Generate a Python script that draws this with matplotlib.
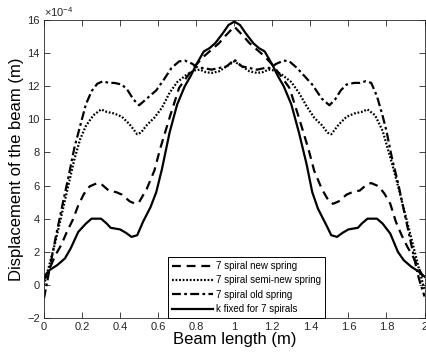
import numpy as np
import matplotlib
matplotlib.use('Agg')
import matplotlib.pylab as plt

# displacement values in units of 1e-4 m
x_new = [0.00, 0.03, 0.06, 0.09, 0.12, 0.15, 0.18, 0.21, 0.24, 0.28, 0.30, 0.34, 0.38, 0.41,
         0.45, 0.48, 0.50, 0.54, 0.58, 0.61, 0.66, 0.71, 0.76, 0.80, 0.84, 0.88, 0.92, 0.95,
         1.00, 1.05, 1.08, 1.12, 1.16, 1.20, 1.24, 1.29, 1.34, 1.39, 1.42, 1.46, 1.50, 1.52,
         1.55, 1.59, 1.62, 1.66, 1.70, 1.72, 1.76, 1.79, 1.82, 1.85, 1.88, 1.91, 1.94, 1.97, 2.00]
y_new = [0.3, 1.0, 1.8, 2.4, 3.2, 3.9, 4.8, 5.5, 5.95, 6.15, 6.1, 5.7, 5.6, 5.45,
         5.05, 4.9, 5.0, 5.8, 6.9, 8.2, 10.1, 11.9, 12.7, 13.3, 13.8, 14.2, 14.6, 15.0,
         15.6, 15.0, 14.6, 14.2, 13.8, 13.3, 12.7, 11.9, 10.1, 8.2, 6.9, 5.8, 5.0, 4.9,
         5.05, 5.45, 5.6, 5.7, 6.1, 6.15, 5.95, 5.5, 4.9, 3.8, 3.0, 2.3, 1.7, 1.0, 0.3]

x_semi = [0.00, 0.03, 0.06, 0.10, 0.13, 0.16, 0.19, 0.22, 0.26, 0.30, 0.33, 0.37, 0.41, 0.45,
          0.49, 0.51, 0.54, 0.58, 0.62, 0.66, 0.70, 0.75, 0.79, 0.82, 0.85, 0.88, 0.92, 0.96,
          1.00, 1.04, 1.08, 1.12, 1.15, 1.18, 1.21, 1.25, 1.30, 1.34, 1.38, 1.42, 1.46, 1.49,
          1.51, 1.55, 1.59, 1.63, 1.67, 1.70, 1.74, 1.78, 1.80, 1.83, 1.86, 1.90, 1.94, 1.97, 2.00]
y_semi = [0.0, 1.3, 2.6, 4.6, 6.1, 7.6, 8.8, 9.6, 10.25, 10.6, 10.45, 10.35, 10.15, 9.7,
          9.1, 9.2, 9.65, 10.1, 10.7, 11.6, 12.25, 12.7, 12.95, 13.0, 12.85, 12.8, 12.9, 13.2,
          13.5, 13.2, 12.9, 12.8, 12.85, 13.0, 12.95, 12.7, 12.25, 11.6, 10.8, 10.1, 9.65, 9.2,
          9.1, 9.7, 10.15, 10.35, 10.45, 10.6, 10.25, 9.3, 8.5, 7.3, 6.0, 4.2, 2.4, 1.0, -0.3]

x_old = [0.00, 0.03, 0.06, 0.10, 0.13, 0.16, 0.19, 0.22, 0.25, 0.28, 0.31, 0.34, 0.37, 0.41,
         0.44, 0.47, 0.50, 0.54, 0.59, 0.63, 0.67, 0.71, 0.74, 0.78, 0.81, 0.84, 0.88, 0.92,
         0.96, 1.00, 1.04, 1.08, 1.12, 1.16, 1.19, 1.22, 1.26, 1.29, 1.33, 1.37, 1.41, 1.46,
         1.50, 1.53, 1.56, 1.59, 1.63, 1.66, 1.69, 1.72, 1.75, 1.78, 1.80, 1.83, 1.86, 1.89,
         1.92, 1.95, 1.97, 2.00]
y_old = [-0.8, 1.0, 2.8, 5.0, 6.6, 8.3, 9.6, 10.9, 11.7, 12.15, 12.3, 12.2, 12.2, 12.1,
         11.75, 11.2, 10.85, 11.25, 11.75, 12.4, 13.1, 13.5, 13.55, 13.35, 13.1, 13.1, 13.0, 13.1,
         13.2, 13.6, 13.2, 13.1, 13.0, 13.1, 13.1, 13.35, 13.55, 13.5, 13.1, 12.6, 12.1, 11.25,
         10.85, 11.2, 11.75, 12.1, 12.2, 12.2, 12.3, 12.2, 11.4, 10.2, 9.3, 7.6, 6.2, 4.6,
         3.0, 1.4, 0.4, -0.7]

x_fixed = [0.00, 0.03, 0.07, 0.11, 0.14, 0.18, 0.22, 0.25, 0.30, 0.33, 0.35, 0.40, 0.43, 0.46,
           0.49, 0.52, 0.56, 0.59, 0.62, 0.66, 0.70, 0.74, 0.77, 0.80, 0.84, 0.87, 0.90, 0.94,
           0.97, 1.00, 1.03, 1.06, 1.10, 1.13, 1.16, 1.20, 1.23, 1.26, 1.30, 1.34, 1.38, 1.41,
           1.44, 1.48, 1.51, 1.54, 1.57, 1.60, 1.65, 1.67, 1.70, 1.75, 1.78, 1.82, 1.86, 1.89,
           1.93, 1.97, 2.00]
y_fixed = [0.5, 0.9, 1.2, 1.6, 2.2, 3.2, 3.7, 4.0, 4.0, 3.7, 3.45, 3.35, 3.15, 2.9,
           3.0, 3.8, 4.7, 5.6, 7.0, 9.2, 10.9, 12.0, 12.6, 13.3, 14.1, 14.3, 14.6, 15.2,
           15.7, 15.9, 15.7, 15.2, 14.6, 14.3, 14.1, 13.3, 12.6, 12.0, 10.9, 9.2, 7.3, 5.6,
           4.6, 3.7, 3.0, 2.9, 3.15, 3.35, 3.45, 3.7, 4.0, 4.0, 3.7, 3.1, 2.0, 1.5,
           1.1, 0.8, 0.5]

labels = ['7 spiral new spring', '7 spiral semi-new spring',
          '7 spiral old spring', 'k fixed for 7 spirals']
xticks = [0, 0.2, 0.4, 0.6, 0.8, 1, 1.2, 1.4, 1.6, 1.8, 2]
xtick_labels = ['0', '0.2', '0.4', '0.6', '0.8', '1', '1.2', '1.4', '1.6', '1.8', '2']
yticks = [-2, 0, 2, 4, 6, 8, 10, 12, 14, 16]

plt.rcParams['font.family'] = ['Liberation Sans', 'DejaVu Sans']
plt.rcParams['mathtext.fontset'] = 'custom'
plt.rcParams['mathtext.rm'] = 'Liberation Sans'
plt.rcParams['mathtext.it'] = 'Liberation Sans:italic'
fig = plt.figure(figsize=(4.26, 3.57), dpi=100)
ax = fig.add_axes([0.1033, 0.1092, 0.8932, 0.8348])

grey = '#262626'
ax.plot(x_new, y_new, color='black', lw=1.6, ls=(0, (4, 2.6)), label=labels[0])
ax.plot(x_semi, y_semi, color='black', lw=1.6, ls=(0, (0.8, 0.8)), label=labels[1])
ax.plot(x_old, y_old, color='black', lw=1.6, ls=(0, (4, 1.5, 1.2, 1.5)), label=labels[2])
ax.plot(x_fixed, y_fixed, color='black', lw=1.6, ls='-', label=labels[3])

ax.set_xlim(0, 2)
ax.set_ylim(-2, 16)
ax.set_xticks(xticks)
ax.set_xticklabels(xtick_labels)
ax.set_yticks(yticks)
ax.tick_params(direction='in', top=True, right=True, length=4, width=0.6,
               labelsize=8, colors=grey, pad=3)
for sp in ax.spines.values():
    sp.set_color(grey)
    sp.set_linewidth(0.6)

ax.text(0.0, 1.004, r'$\times\mathrm{10}^{\mathrm{-4}}$', transform=ax.transAxes,
        ha='left', va='bottom', fontsize=8, color=grey)
ax.set_xlabel('Beam length (m)', fontsize=12, labelpad=0)
ax.set_ylabel('Displacement of the beam (m)', fontsize=12, labelpad=2)

leg = ax.legend(loc='lower center', bbox_to_anchor=(0.532, 0.0), borderaxespad=0,
                fontsize=7, fancybox=False, edgecolor='black', framealpha=1,
                handlelength=4.3, handletextpad=0.3, labelspacing=0.45,
                borderpad=0.4)
leg.get_frame().set_linewidth(0.7)

plt.savefig('out.png', dpi=100)
